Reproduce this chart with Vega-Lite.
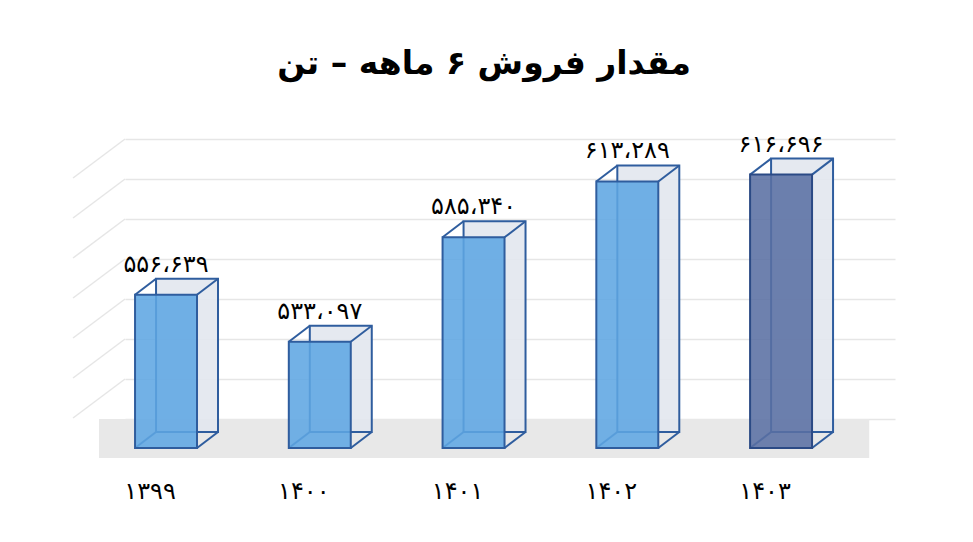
{
  "$schema": "https://vega.github.io/schema/vega-lite/v6.json",
  "width": 822,
  "height": 319,
  "autosize": {"type": "none"},
  "padding": {"left": 73, "top": 139, "right": 78, "bottom": 84},
  "background": "white",
  "config": {"view": {"stroke": null}, "font": "DejaVu Sans"},
  "title": {"text": "مقدار فروش ۶ ماهه  –  تن", "fontSize": 33, "fontWeight": "bold", "font": "DejaVu Sans", "color": "#000000", "anchor": "middle", "offset": 52},
  "datasets": {
    "sales": [
      {"year": "۱۳۹۹", "value": 556639, "label": "۵۵۶،۶۳۹"},
      {"year": "۱۴۰۰", "value": 533097, "label": "۵۳۳،۰۹۷"},
      {"year": "۱۴۰۱", "value": 585340, "label": "۵۸۵،۳۴۰"},
      {"year": "۱۴۰۲", "value": 613289, "label": "۶۱۳،۲۸۹"},
      {"year": "۱۴۰۳", "value": 616696, "label": "۶۱۶،۶۹۶"}
    ],
    "grid": [
      {"g": 500000}, {"g": 520000}, {"g": 540000}, {"g": 560000},
      {"g": 580000}, {"g": 600000}, {"g": 620000}
    ]
  },
  "data": {"name": "sales"},
  "layer": [
    {
      "data": {"name": "grid"},
      "mark": {"type": "rule", "color": "#e6e6e6", "strokeWidth": 1.5, "xOffset": -62, "x2Offset": -10, "yOffset": 39, "y2Offset": 0},
      "encoding": {
        "x": {"datum": "۱۳۹۹", "bandPosition": 0},
        "x2": {"datum": "۱۳۹۹", "bandPosition": 0},
        "y": {"field": "g", "type": "quantitative"},
        "y2": {"field": "g"}
      }
    },
    {
      "mark": {"type": "rect", "fill": "#e8e8e8", "xOffset": -36, "x2Offset": 57},
      "encoding": {
        "x": {"datum": "۱۳۹۹", "bandPosition": 0},
        "x2": {"datum": "۱۴۰۳", "bandPosition": 1},
        "y": {"datum": 480000, "type": "quantitative"},
        "y2": {"datum": 460500}
      }
    },
    {
      "mark": {"type": "bar", "fill": "#e2e7ee", "fillOpacity": 0.9, "stroke": "#2f5d9e", "strokeWidth": 2, "xOffset": 21, "x2Offset": 21, "yOffset": 13, "y2Offset": 13},
      "encoding": {
        "x": {"field": "year", "type": "nominal", "sort": null},
        "y": {"field": "value", "type": "quantitative"},
        "y2": {"datum": 480000}
      }
    },
    {
      "mark": {"type": "rule", "color": "#2f5d9e", "strokeWidth": 2, "yOffset": 29, "y2Offset": 13, "x2Offset": 21},
      "encoding": {
        "x": {"field": "year", "type": "nominal", "sort": null, "bandPosition": 0},
        "x2": {"field": "year", "bandPosition": 0},
        "y": {"field": "value", "type": "quantitative"},
        "y2": {"field": "value"}
      }
    },
    {
      "mark": {"type": "rule", "color": "#2f5d9e", "strokeWidth": 2, "yOffset": 29, "y2Offset": 13, "x2Offset": 21},
      "encoding": {
        "x": {"field": "year", "type": "nominal", "sort": null, "bandPosition": 1},
        "x2": {"field": "year", "bandPosition": 1},
        "y": {"field": "value", "type": "quantitative"},
        "y2": {"field": "value"}
      }
    },
    {
      "mark": {"type": "rule", "color": "#2f5d9e", "strokeWidth": 2, "yOffset": 29, "y2Offset": 13, "x2Offset": 21},
      "encoding": {
        "x": {"field": "year", "type": "nominal", "sort": null, "bandPosition": 0},
        "x2": {"field": "year", "bandPosition": 0},
        "y": {"datum": 480000, "type": "quantitative"},
        "y2": {"datum": 480000}
      }
    },
    {
      "mark": {"type": "rule", "color": "#2f5d9e", "strokeWidth": 2, "yOffset": 29, "y2Offset": 13, "x2Offset": 21},
      "encoding": {
        "x": {"field": "year", "type": "nominal", "sort": null, "bandPosition": 1},
        "x2": {"field": "year", "bandPosition": 1},
        "y": {"datum": 480000, "type": "quantitative"},
        "y2": {"datum": 480000}
      }
    },
    {
      "mark": {"type": "bar", "strokeWidth": 2, "yOffset": 29, "y2Offset": 29, "fillOpacity": 0.88},
      "encoding": {
        "x": {
          "field": "year", "type": "nominal", "sort": null,
          "scale": {"domain": ["۱۳۹۹", "۱۴۰۰", "۱۴۰۱", "۱۴۰۲", "۱۴۰۳"], "range": [52, 822], "paddingInner": 0.597, "paddingOuter": 0.3024, "align": 0.108},
          "axis": {"title": null, "domain": false, "ticks": false, "labelFontSize": 24, "labelColor": "#000000", "labelAlign": "center", "labelOffset": -16, "labelPadding": 33, "labelAngle": 0, "labelFont": "DejaVu Sans"}
        },
        "y": {
          "field": "value", "type": "quantitative",
          "scale": {"domain": [460500, 620000], "nice": false, "zero": false},
          "axis": {"title": null, "domain": false, "ticks": false, "labels": false, "grid": true, "gridColor": "#e6e6e6", "gridWidth": 1.5, "values": [480000, 500000, 520000, 540000, 560000, 580000, 600000, 620000]}
        },
        "y2": {"datum": 480000},
        "fill": {"condition": {"test": "datum.year === '۱۴۰۳'", "value": "#5a6fa3"}, "value": "#5fa6e2"},
        "stroke": {"condition": {"test": "datum.year === '۱۴۰۳'", "value": "#2b4a85"}, "value": "#2f5d9e"}
      }
    },
    {
      "mark": {"type": "text", "fontSize": 24, "font": "DejaVu Sans", "baseline": "alphabetic", "dy": 6, "color": "#000000"},
      "encoding": {
        "x": {"field": "year", "type": "nominal", "sort": null},
        "y": {"field": "value", "type": "quantitative"},
        "text": {"field": "label"}
      }
    }
  ]
}
